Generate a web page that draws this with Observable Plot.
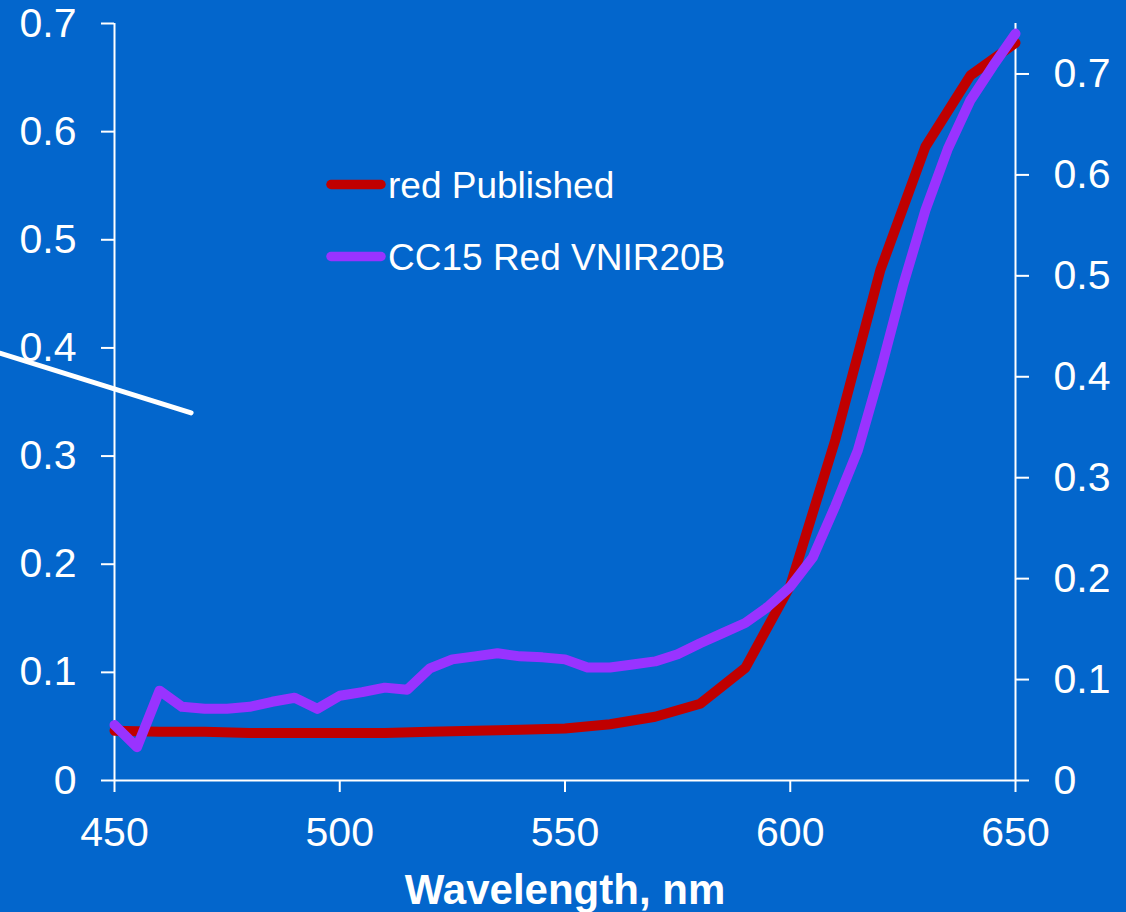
<!DOCTYPE html>
<html>
<head>
<meta charset="utf-8">
<script src="https://cdn.jsdelivr.net/npm/d3@7"></script>
<script src="https://cdn.jsdelivr.net/npm/@observablehq/plot@0.6"></script>
<style>
  html, body { margin: 0; padding: 0; background: #0366cc; }
  #chart svg { display: block; }
</style>
</head>
<body>
<div id="chart"></div>
<script>
// ---- data ----
const redWavelengths = [450,460,470,480,490,500,510,520,530,540,550,560,570,580,590,600,610,620,630,640,650];
const redValues      = [0.046,0.045,0.045,0.044,0.044,0.044,0.044,0.045,0.046,0.047,0.048,0.052,0.059,0.071,0.104,0.18,0.315,0.472,0.586,0.652,0.682];

const purpleWavelengths = [450,455,460,465,470,475,480,485,490,495,500,505,510,515,520,525,530,535,540,545,550,555,560,565,570,575,580,585,590,595,600,605,610,615,620,625,630,635,640,645,650];
const purpleValues      = [0.055,0.033,0.089,0.073,0.071,0.071,0.073,0.078,0.082,0.071,0.084,0.0875,0.092,0.090,0.111,0.120,0.123,0.126,0.123,0.122,0.120,0.112,0.112,0.115,0.118,0.125,0.136,0.146,0.156,0.172,0.192,0.221,0.272,0.327,0.405,0.49,0.565,0.626,0.674,0.708,0.740];

const seriesNames = ["red Published", "CC15 Red VNIR20B"];
const seriesColors = ["#c00000", "#9933ff"];

const xTicks = [450, 500, 550, 600, 650];
const leftTicks = [0, 0.1, 0.2, 0.3, 0.4, 0.5, 0.6, 0.7];
const rightTicks = [0, 0.1, 0.2, 0.3, 0.4, 0.5, 0.6, 0.7];
const leftMax = 0.7;
const rightMax = 0.75;

// stray white pointer line (data units of the left axis)
const pointerX = [424.7, 467.0];
const pointerY = [0.395, 0.340];

// ---- build ----
const k = leftMax / rightMax;
const fmt = d => { const v = Math.round(d * 10) / 10; return v === 0 ? "0" : String(v); };

const red = redWavelengths.map((w, i) => ({x: w, y: redValues[i]}));
const purple = purpleWavelengths.map((w, i) => ({x: w, y: purpleValues[i] * k}));
const pointer = pointerX.map((x, i) => ({x, y: pointerY[i]}));

const chart = Plot.plot({
  width: 1126,
  height: 912,
  marginLeft: 114,
  marginRight: 111,
  marginTop: 23,
  marginBottom: 132,
  style: {background: "#0366cc", color: "white", fontFamily: "'Liberation Sans', Arial, sans-serif", overflow: "visible"},
  x: {domain: [450, 650]},
  y: {domain: [0, leftMax]},
  marks: [
    Plot.ruleX([450, 650], {stroke: "white", strokeWidth: 2}),
    Plot.ruleY([0], {stroke: "white", strokeWidth: 2}),
    Plot.axisX(xTicks, {tickSize: 12, tickPadding: 24, fontSize: 41, strokeWidth: 2, label: null, tickFormat: d => String(d)}),
    Plot.axisY(leftTicks, {anchor: "left", tickSize: 13, tickPadding: 25, fontSize: 41, strokeWidth: 2, label: null, tickFormat: fmt}),
    Plot.axisY(rightTicks.map(t => t * k), {anchor: "right", tickSize: 13, tickPadding: 25, fontSize: 41, strokeWidth: 2, label: null, tickFormat: d => fmt(d / k)}),
    Plot.line(pointer, {x: "x", y: "y", stroke: "white", strokeWidth: 5}),
    Plot.line(red, {x: "x", y: "y", stroke: seriesColors[0], strokeWidth: 10, strokeLinejoin: "round"}),
    Plot.line(purple, {x: "x", y: "y", stroke: seriesColors[1], strokeWidth: 10, strokeLinejoin: "round"}),
    Plot.text(["Wavelength, nm"], {frameAnchor: "bottom", dy: 123, lineAnchor: "bottom", fontWeight: "bold", fontSize: 42, fill: "white"})
  ]
});

// legend inside the plot area
const svg = d3.select(chart);
const lg = svg.append("g")
  .attr("font-family", "'Liberation Sans', Arial, sans-serif")
  .attr("font-size", 37)
  .attr("fill", "white")
  .attr("text-anchor", "start");
const legendRows = [184.5, 256.5];
seriesNames.forEach((name, i) => {
  lg.append("line").attr("x1", 331).attr("x2", 381).attr("y1", legendRows[i]).attr("y2", legendRows[i])
    .attr("stroke", seriesColors[i]).attr("stroke-width", 9.5).attr("stroke-linecap", "round");
  lg.append("text").attr("x", 388).attr("y", legendRows[i] + 13.5).attr("text-anchor", "start").text(name);
});

document.getElementById("chart").appendChild(chart);
</script>
</body>
</html>
